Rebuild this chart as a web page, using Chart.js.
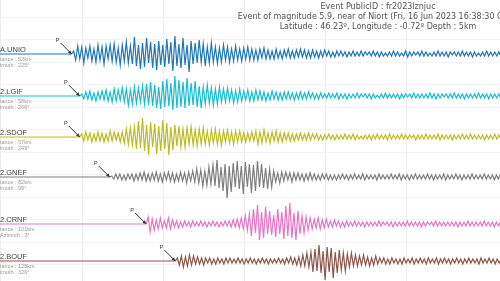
<!DOCTYPE html>
<html>
<head>
<meta charset="utf-8">
<script src="https://cdn.jsdelivr.net/npm/chart.js@4"></script>
<style>
  html, body { margin: 0; padding: 0; background: #fff; overflow: hidden }
  .chart-wrap { position: relative; width: 500px; height: 281px }
</style>
</head>
<body>
<div class="chart-wrap"><canvas id="chart"></canvas></div>
<script>
// event header
const titleLines = [
  'Event PublicID : fr2023lznjuc',
  'Event of magnitude 5.9, near of Niort (Fri, 16 Jun 2023 16:38:30 GMT)',
  'Latitude : 46.23º, Longitude : -0.72º Depth : 5km'
]

// stations (left part of the labels is cut off in the picture)
const stations = ['A.UNIO', '2.LGIF', '2.SDOF', '2.GNEF', '2.CRNF', '2.BOUF']
const distances = ['tance : 52km', 'tance : 58km', 'tance : 57km', 'tance : 82km', 'tance : 101km', 'tance : 125km']
const azimuths = ['imuth : 225°', 'imuth : 206°', 'imuth : 249°', 'imuth : 99°', 'Azimuth : 3°', 'imuth : 326°']

// P arrival, seconds after origin time
const arrivals = [8.6, 9.6, 9.6, 13.3, 17.8, 21.4]
const sampleStep = 0.25

// ground motion, one value per sample after the P arrival
const unioAmp = [
  3,-6,8,-5,7,-9,6,-4,8,-7, 5,-8,9,-6,7,-10,8,-5,9,-7, 10,-8,6,-11,9,-7,12,-9,8,-10,
  17,-12,9,-15,11,-13,16,-9,12,-14, 10,-16,13,-11,9,-13,15,-10,12,-17, 18,-12,10,-14,16,-11,9,-18,13,-10,
  11,-9,14,-8,10,-12,7,-9,11,-8, 7,-9,6,-8,9,-6,7,-8,5,-7, 8,-6,5,-7,6,-5,7,-6,5,-6,
  4,-6,5,-4,6,-5,4,-5,3,-5, 5,-4,3,-5,4,-3,5,-4,3,-4, 4,-3,5,-3,4,-4,3,-4,4,-3,
  3,-4,3,-3,4,-2,3,-3,2,-3, 3,-2,3,-2,2,-3,2,-2,3,-2, 2,-2,3,-2,2,-1,2,-2,3,-2,
  2,-3,2,-2,1,-2,2,-2,3,-2, 2,-2,1,-2,3,-3,2,-2,2,-1, 2,-2,3,-2,2,-2,1,-2,2,-2,
  3,-2,2,-2,2,-3,2,-1,2,-2, 2,-2,3,-2,2,-2,2,-3,2,-2, 1,-2,2,-2,3,-2,2,-2,2,-2, 2,-2,3,-2
]
const lgifAmp = [
  2,-3,4,-3,5,-4,3,-5,4,-3, 5,-4,6,-5,4,-6,7,-5,6,-4, 8,-6,7,-9,6,-8,9,-7,8,-6,
  10,-8,12,-9,14,-10,11,-12,9,-13, 15,-11,17,-10,13,-14,20,-12,16,-11, 14,-12,18,-10,13,-9,15,-11,10,-12,
  9,-8,11,-7,8,-9,7,-8,9,-6, 7,-6,8,-5,6,-7,5,-6,7,-5, 5,-4,6,-5,4,-5,6,-4,5,-4,
  4,-5,3,-4,5,-3,4,-4,3,-4, 4,-3,4,-3,3,-4,3,-3,4,-3, 3,-3,4,-2,3,-3,2,-3,3,-2,
  2,-2,3,-2,2,-2,3,-3,2,-2, 2,-3,2,-2,2,-2,3,-2,2,-1, 2,-2,2,-3,2,-2,1,-2,2,-2,
  3,-2,2,-2,2,-2,2,-3,2,-2, 2,-1,2,-2,3,-2,2,-2,2,-2, 2,-2,3,-2,2,-3,2,-2,2,-1,
  2,-2,2,-2,3,-2,2,-2,2,-3, 2,-2,2,-2,2,-2,3,-2,2,-2, 2,-3,2,-2,2,-2,2,-2,3,-2
]
const sdofAmp = [
  3,-4,5,-3,4,-5,3,-4,5,-4, 4,-5,3,-4,6,-4,5,-3,4,-5, 5,-6,8,-7,9,-8,10,-12,16,-11,
  19,-14,12,-18,15,-10,13,-17,11,-14, 17,-12,14,-18,10,-13,12,-9,11,-10, 8,-10,9,-7,10,-8,7,-9,8,-7,
  9,-7,6,-8,7,-6,8,-7,6,-8, 6,-5,7,-6,5,-7,6,-5,6,-5, 4,-5,4,-4,5,-4,6,-7,5,-6,
  7,-5,4,-6,5,-4,6,-5,4,-5, 4,-3,4,-4,3,-4,3,-3,4,-3, 3,-3,4,-3,3,-2,3,-3,2,-3,
  2,-2,3,-2,2,-3,2,-2,2,-2, 3,-2,2,-2,3,-3,2,-2,1,-2, 2,-2,2,-3,2,-2,3,-2,2,-2,
  2,-3,3,-2,2,-2,2,-2,3,-2, 2,-2,2,-1,2,-3,2,-2,2,-2, 3,-2,2,-2,2,-2,3,-3,2,-2,
  2,-2,2,-3,2,-2,2,-2,3,-2, 2,-2,3,-2,2,-2,2,-2,2,-3, 2,-2,2,-2,3,-2,2,-2,2,-2
]
const gnefAmp = [
  1,-2,3,-2,3,-3,2,-3,3,-2, 3,-4,3,-3,4,-3,5,-4,3,-4, 4,-3,5,-4,3,-5,4,-3,5,-4,
  4,-5,3,-4,5,-4,4,-6,5,-4, 6,-5,8,-6,7,-9,6,-8,10,-7, 12,-9,17,-11,10,-14,13,-21,11,-15,
  14,-10,16,-12,11,-17,15,-10,13,-16, 12,-14,16,-10,13,-11,9,-12,8,-10, 6,-5,4,-6,5,-4,5,-3,4,-5,
  4,-3,4,-3,3,-4,3,-3,4,-3, 3,-3,2,-3,3,-2,3,-3,2,-3, 2,-3,2,-2,3,-2,2,-3,2,-2,
  3,-2,2,-2,3,-3,2,-2,2,-2, 2,-3,3,-2,2,-2,2,-2,3,-2, 2,-2,3,-3,2,-2,2,-3,2,-2,
  3,-2,2,-2,2,-2,3,-2,2,-3, 2,-2,2,-2,3,-3,2,-2,2,-2, 3,-2,2,-3,2,-2,2,-2,3,-2,
  2,-2,2,-2,3,-2,2,-2,2,-3, 2,-2,3,-2
]
const crnfAmp = [
  7,-8,5,-6,4,-5,6,-4,3,-4, 6,-5,4,-3,3,-4,2,-3,3,-2, 2,-3,3,-2,2,-2,3,-2,2,-3,
  2,-2,3,-2,2,-3,2,-2,3,-2, 3,-3,4,-3,5,-4,6,-5,8,-6, 10,-12,15,-9,19,-16,12,-14,17,-10,
  13,-11,9,-13,15,-10,12,-15,18,-12, 21,-14,11,-16,13,-10,8,-9,7,-6, 6,-5,5,-4,6,-5,4,-4,5,-3,
  3,-3,4,-2,3,-3,2,-3,3,-2, 2,-2,3,-2,2,-2,2,-3,2,-2, 2,-2,2,-2,3,-2,2,-1,2,-2,
  2,-3,2,-2,2,-2,2,-2,3,-2, 2,-2,2,-2,2,-3,2,-2,2,-1, 2,-2,3,-2,2,-2,2,-2,2,-2,
  2,-2,2,-3,2,-2,2,-2,3,-2, 2,-2,2,-2,2,-2,3,-2,2,-2, 2,-3,2,-2,2
]
const boufAmp = [
  3,-4,5,-6,4,-5,6,-4,5,-3, 4,-3,3,-4,3,-2,3,-3,2,-3, 3,-2,2,-3,3,-2,3,-2,2,-2,
  3,-2,2,-3,2,-2,3,-2,2,-3, 2,-2,3,-2,2,-3,2,-2,2,-2, 3,-2,2,-3,3,-2,4,-3,3,-4,
  4,-5,6,-5,8,-6,9,-11,12,-10, 16,-12,10,-19,14,-11,13,-17,9,-12, 11,-9,8,-10,7,-6,8,-5,6,-5,
  5,-4,6,-4,4,-5,3,-4,5,-3, 3,-2,3,-3,2,-3,3,-2,2,-3, 2,-3,3,-2,2,-2,3,-3,2,-2,
  3,-2,2,-3,3,-2,2,-2,3,-3, 2,-2,3,-2,2,-3,2,-2,3,-2, 2,-3,2,-2,3,-2,2,-2,2,-3,
  3,-2,2,-2,3,-2,2,-3,2,-2, 2,-2,3,-2
]
const amplitudes = [unioAmp, lgifAmp, sdofAmp, gnefAmp, crnfAmp, boufAmp]

// layout & style
const colors = ['#1f77b4', '#17becf', '#bcbd22', '#7f7f7f', '#e377c2', '#8c564b']
const lanes = [54, 96, 137, 177, 224, 261]
const timeMin = -0.25
const timeMax = 61.5
const gridRows = [17, 39.5, 62, 84.5, 107, 129.5, 152, 174.5, 197, 219.5, 242, 264.5]

const buildTrace = (i) => {
  const pts = [{ x: timeMin - 1, y: lanes[i] }, { x: arrivals[i], y: lanes[i] }]
  amplitudes[i].forEach((a, k) => {
    pts.push({ x: arrivals[i] + (k + 1) * sampleStep, y: lanes[i] - a })
  })
  return pts
}

const datasets = stations.map((name, i) => ({
  label: name,
  data: buildTrace(i),
  borderColor: colors[i],
  borderWidth: 1.2,
  pointRadius: 0,
  tension: 0
}))

const drawArrow = (ctx, x0, y0, x1, y1) => {
  const ang = Math.atan2(y1 - y0, x1 - x0)
  ctx.beginPath()
  ctx.moveTo(x0, y0)
  ctx.lineTo(x1, y1)
  ctx.stroke()
  ctx.beginPath()
  ctx.moveTo(x1, y1)
  ctx.lineTo(x1 - 4 * Math.cos(ang - 0.45), y1 - 4 * Math.sin(ang - 0.45))
  ctx.lineTo(x1 - 4 * Math.cos(ang + 0.45), y1 - 4 * Math.sin(ang + 0.45))
  ctx.closePath()
  ctx.fill()
}

const annotations = {
  id: 'annotations',
  afterDraw (chart) {
    const { ctx, scales } = chart
    ctx.save()

    // header
    ctx.fillStyle = '#555'
    ctx.font = '8px "DejaVu Sans"'
    ctx.textAlign = 'center'
    ctx.textBaseline = 'middle'
    titleLines.forEach((line, k) => ctx.fillText(line, 378, 7 + k * 10))

    stations.forEach((name, i) => {
      const y = scales.y.getPixelForValue(lanes[i])
      const x = scales.x.getPixelForValue(arrivals[i])

      ctx.textAlign = 'left'
      ctx.textBaseline = 'bottom'
      ctx.fillStyle = '#444'
      ctx.font = '7.5px "Liberation Sans"'
      ctx.fillText(name, 0, y - 0.5)
      ctx.textBaseline = 'middle'
      ctx.fillStyle = '#999'
      ctx.font = '5.5px "Liberation Sans"'
      ctx.fillText(distances[i], 0, y + 5)
      ctx.fillText(azimuths[i], 0, y + 11)

      // P pick
      ctx.strokeStyle = '#333'
      ctx.fillStyle = '#333'
      ctx.lineWidth = 1
      drawArrow(ctx, x - 11, y - 11, x, y)
      ctx.font = '5.5px "Liberation Sans"'
      ctx.textAlign = 'center'
      ctx.fillText('P', x - 14, y - 14)
    })
    ctx.restore()
  }
}

new Chart(document.getElementById('chart'), {
  type: 'line',
  data: { datasets },
  options: {
    animation: false,
    responsive: true,
    maintainAspectRatio: false,
    layout: { padding: 0 },
    plugins: { legend: { display: false }, title: { display: false }, tooltip: { enabled: false } },
    scales: {
      x: {
        type: 'linear',
        min: timeMin,
        max: timeMax,
        ticks: { display: false, stepSize: 10 },
        grid: { color: '#ececec', drawTicks: false, tickLength: 0 },
        border: { display: false }
      },
      y: {
        min: 0,
        max: 281,
        reverse: true,
        afterBuildTicks: (scale) => { scale.ticks = gridRows.map(v => ({ value: v })) },
        ticks: { display: false },
        grid: { color: '#f3f3f3', drawTicks: false, tickLength: 0 },
        border: { display: false }
      }
    }
  },
  plugins: [annotations]
})
</script>
</body>
</html>
